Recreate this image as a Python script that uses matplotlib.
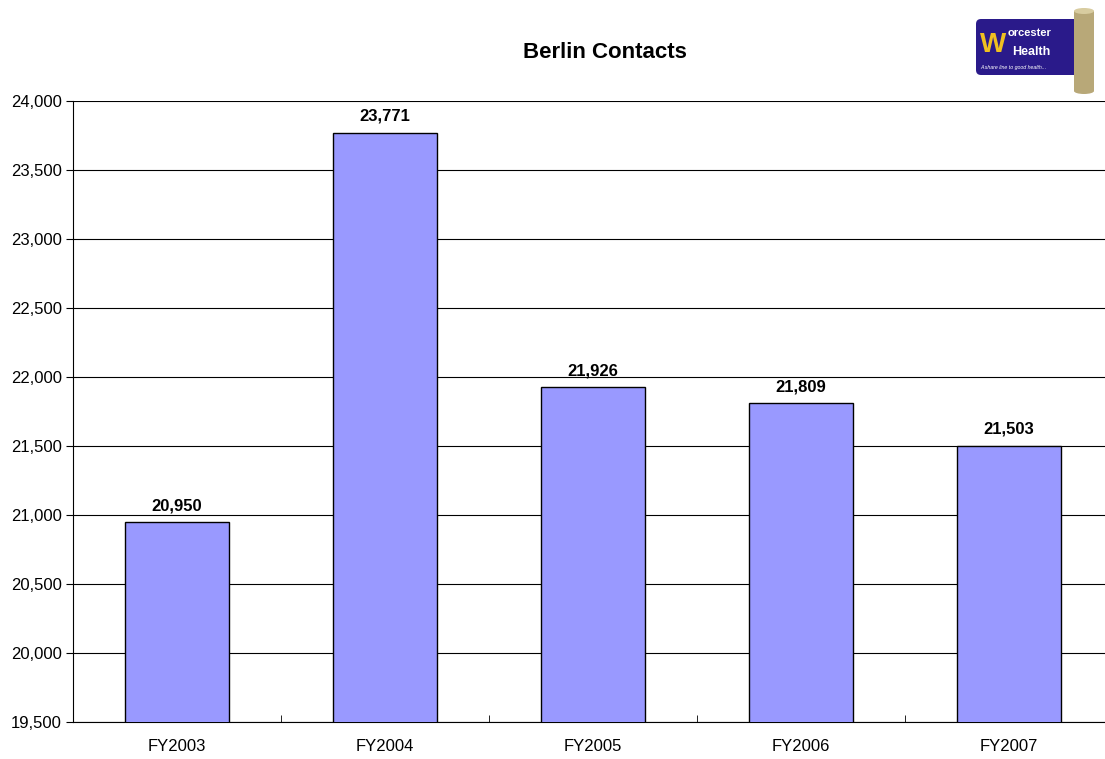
import matplotlib.pyplot as plt
from matplotlib.patches import FancyBboxPatch, Rectangle, Ellipse
from matplotlib.ticker import FuncFormatter, MultipleLocator

plt.rcParams['font.family'] = ['Liberation Sans', 'DejaVu Sans']

# Data
years = ['FY2003', 'FY2004', 'FY2005', 'FY2006', 'FY2007']
contacts = [20950, 23771, 21926, 21809, 21503]

fig = plt.figure(figsize=(11.05, 7.59), dpi=100)
W, H = 1105, 759
# plot area in pixels: left 73, right 1113, top 101, bottom 722
ax = fig.add_axes([73 / W, 1 - 722 / H, 1040 / W, 621 / H])

x = range(len(years))
ax.bar(x, contacts, width=0.5, color='#9999ff', edgecolor='black', linewidth=1, zorder=3)
for xi, v in zip(x, contacts):
    ax.text(xi, v + 85, f'{v:,}', ha='center', va='baseline', fontsize=12, fontweight='bold')

ax.set_xlim(-0.5, len(years) - 0.5)
ax.set_ylim(19500, 24000)
ax.yaxis.set_major_locator(MultipleLocator(500))
ax.yaxis.set_major_formatter(FuncFormatter(lambda v, p: f'{int(v):,}'))
ax.grid(axis='y', color='black', linewidth=0.8, zorder=0)
ax.set_xticks(list(x))
ax.set_xticklabels(years)
ax.set_xticks([i + 0.5 for i in x], minor=True)
ax.tick_params(axis='x', which='major', length=0, pad=12, labelsize=12)
ax.tick_params(axis='x', which='minor', length=5, direction='in', color='black')
ax.tick_params(axis='y', length=5, labelsize=12, pad=3)
ax.spines['top'].set_visible(False)
ax.spines['right'].set_visible(False)
for s in ['left', 'bottom']:
    ax.spines[s].set_linewidth(0.8)

fig.text(605 / W, 1 - 52 / H, 'Berlin Contacts', ha='center', va='center',
         fontsize=16, fontweight='bold')

# logo approximation
lax = fig.add_axes([972 / W, 1 - 95 / H, 128 / W, 90 / H])
lax.set_xlim(0, 128)
lax.set_ylim(0, 90)
lax.axis('off')
lax.add_patch(FancyBboxPatch((4, 20), 104, 56, boxstyle='round,pad=0,rounding_size=5',
                             facecolor='#2a1a8a', edgecolor='none'))
lax.add_patch(Rectangle((102, 4), 20, 80, facecolor='#b8a878', edgecolor='none'))
lax.add_patch(Ellipse((112, 84), 20, 6, facecolor='#d8cca0', edgecolor='none'))
lax.add_patch(Ellipse((112, 4), 20, 6, facecolor='#b8a878', edgecolor='none'))
lax.text(8, 50, 'W', color='#f0c020', fontsize=20, fontweight='bold', va='center')
lax.text(36, 62, 'orcester', color='white', fontsize=8, fontweight='bold', va='center')
lax.text(40, 43, 'Health', color='white', fontsize=9, fontweight='bold', va='center')
lax.text(8, 27, 'A share line to good health...', color='white', fontsize=3.8,
         style='italic', va='center')

fig.savefig('out.png', dpi=100)
